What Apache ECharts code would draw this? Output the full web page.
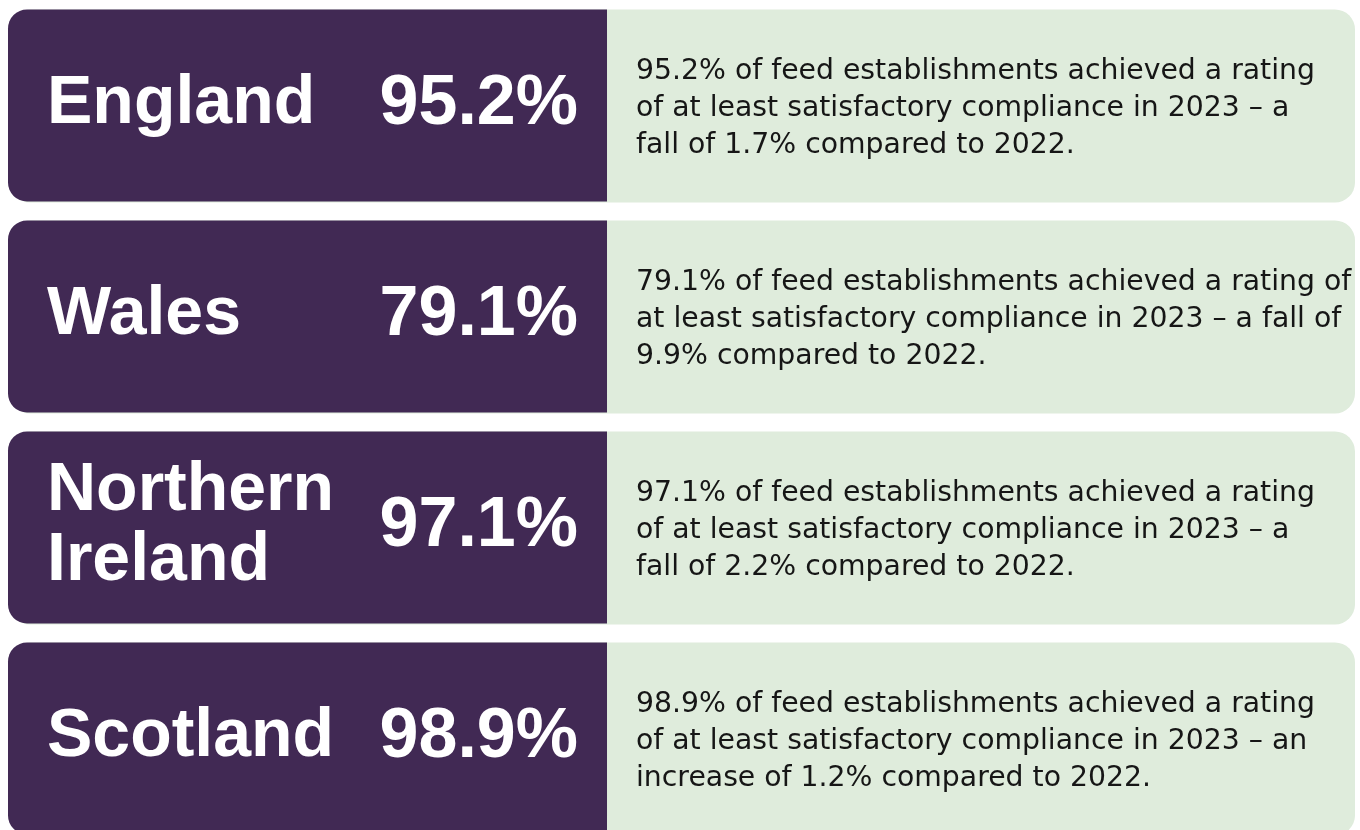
<!DOCTYPE html>
<html>
<head>
<meta charset="utf-8">
<style>
  html, body { margin: 0; padding: 0; background: #ffffff; }
  #main { width: 1360px; height: 830px; }
</style>
</head>
<body>
<div id="main"></div>
<script src="https://cdn.jsdelivr.net/npm/echarts@6/dist/echarts.min.js"></script>
<script>
    // 数据
    var regions = ['England', 'Wales', 'Northern\nIreland', 'Scotland'];
    var rates = [95.2, 79.1, 97.1, 98.9];
    var notes = [
        '95.2% of feed establishments achieved a rating\nof at least satisfactory compliance in 2023 – a\nfall of 1.7% compared to 2022.',
        '79.1% of feed establishments achieved a rating of\nat least satisfactory compliance in 2023 – a fall of\n9.9% compared to 2022.',
        '97.1% of feed establishments achieved a rating\nof at least satisfactory compliance in 2023 – a\nfall of 2.2% compared to 2022.',
        '98.9% of feed establishments achieved a rating\nof at least satisfactory compliance in 2023 – an\nincrease of 1.2% compared to 2022.'
    ];

    var purple = '#412954';
    var green = '#dfecdc';
    var split = 0.4447;   // 左侧深色块占卡片宽度的比例
    var gap = 19;

    var chart = echarts.init(document.getElementById('main'));

    function renderCard(params, api) {
        var idx = api.value(0);
        var left = api.coord([0, idx]);
        var right = api.coord([1, idx]);
        var band = api.size([0, 1])[1];
        var h = band - gap;
        var top = left[1] - h / 2;
        var cy = left[1];
        var x0 = left[0];
        var x1 = right[0];
        var xs = x0 + (x1 - x0) * split;
        return {
            type: 'group',
            children: [
                {
                    type: 'rect',
                    shape: { x: x0 + 2, y: top, width: x1 - x0 - 2, height: h + 1, r: 20 },
                    style: { fill: green }
                },
                {
                    type: 'rect',
                    shape: { x: x0, y: top, width: xs - x0, height: h, r: [19, 0, 0, 19] },
                    style: { fill: purple }
                },
                {
                    type: 'text',
                    style: {
                        text: regions[idx],
                        x: x0 + 39,
                        y: cy - 1,
                        fill: '#ffffff',
                        fontSize: 68,
                        fontWeight: 'bold',
                        fontFamily: '"Liberation Sans", Arial, sans-serif',
                        lineHeight: 70,
                        align: 'left',
                        verticalAlign: 'middle'
                    }
                },
                {
                    type: 'text',
                    style: {
                        text: rates[idx].toFixed(1) + '%',
                        x: xs - 29,
                        y: cy - 1,
                        fill: '#ffffff',
                        fontSize: 70,
                        fontWeight: 'bold',
                        fontFamily: '"Liberation Sans", Arial, sans-serif',
                        align: 'right',
                        verticalAlign: 'middle'
                    }
                },
                {
                    type: 'text',
                    style: {
                        text: notes[idx],
                        x: xs + 29,
                        y: cy + 3,
                        fill: '#161616',
                        fontSize: 28.3,
                        fontFamily: '"DejaVu Sans", sans-serif',
                        lineHeight: 37,
                        align: 'left',
                        verticalAlign: 'middle'
                    }
                }
            ]
        };
    }

    var option = {
        animation: false,
        grid: { left: 8, right: 5, top: 0, bottom: 0 },
        xAxis: { type: 'value', min: 0, max: 1, show: false },
        // 最后一张卡片在底部被截掉一点，所以上限略小于 3.5
        yAxis: { type: 'value', inverse: true, min: -0.5, max: 3.434, show: false },
        series: [{
            type: 'custom',
            renderItem: renderCard,
            clip: false,
            data: rates.map(function (v, i) { return [i, v]; }),
            encode: { y: 0 }
        }]
    };

    chart.setOption(option);
</script>
</body>
</html>
